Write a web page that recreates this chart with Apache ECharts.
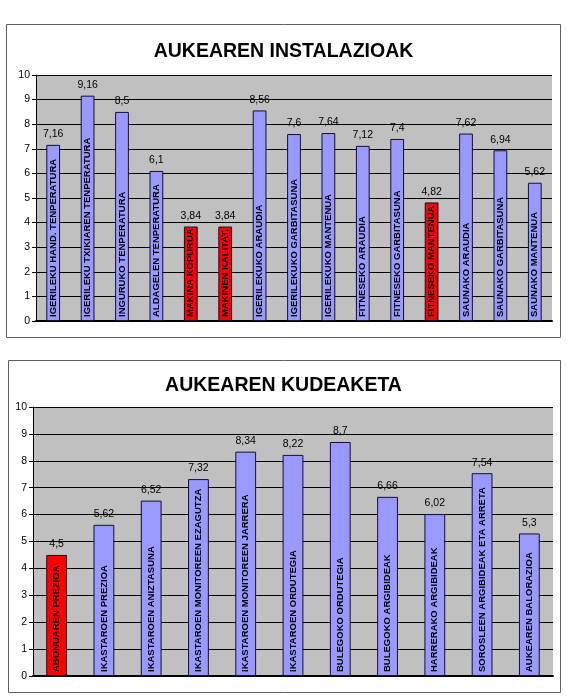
<!DOCTYPE html>
<html>
<head>
<meta charset="utf-8">
<script src="https://cdn.jsdelivr.net/npm/echarts@6/dist/echarts.min.js"></script>
<style>
  html, body { margin: 0; padding: 0; background: #fff; }
  #chart { width: 567px; height: 700px; }
</style>
</head>
<body>
<div id="chart"></div>
<script>
// goiko grafikoa
const instalazioak = [
  "IGERILEKU HAND. TENPERATURA",
  "IGERILEKU TXIKIAREN TENPERATURA",
  "INGURUKO TENPERATURA",
  "ALDAGELEN TENPERATURA",
  "MAKINA KOPURUA",
  "MAKINEN KALITAT.",
  "IGERILEKUKO ARAUDIA",
  "IGERILEKUKO GARBITASUNA",
  "IGERILEKUKO MANTENUA",
  "FITNESEKO ARAUDIA",
  "FITNESEKO GARBITASUNA",
  "FITNESEKO MANTENUA",
  "SAUNAKO ARAUDIA",
  "SAUNAKO GARBITASUNA",
  "SAUNAKO MANTENUA"
];
const instalazioakBalioak = [7.16, 9.16, 8.5, 6.1, 3.84, 3.84, 8.56, 7.6, 7.64, 7.12, 7.4, 4.82, 7.62, 6.94, 5.62];

// beheko grafikoa
const kudeaketa = [
  "ABONUAREN PREZIOA",
  "IKASTAROEN PREZIOA",
  "IKASTAROEN ANIZTASUNA",
  "IKASTAROEN MONITOREEN EZAGUTZA",
  "IKASTAROEN MONITOREEN JARRERA",
  "IKASTAROEN ORDUTEGIA",
  "BULEGOKO ORDUTEGIA",
  "BULEGOKO ARGIBIDEAK",
  "HARRERAKO ARGIBIDEAK",
  "SOROSLEEN ARGIBIDEAK ETA ARRETA",
  "AUKEAREN BALORAZIOA"
];
const kudeaketaBalioak = [4.5, 5.62, 6.52, 7.32, 8.34, 8.22, 8.7, 6.66, 6.02, 7.54, 5.3];

const FONT = "Liberation Sans, Arial, sans-serif";

// 5 baino gutxiago -> gorria
function barColor(p) {
  return p.value < 5 ? "#FF0000" : "#9999FF";
}

function yAxis(idx) {
  return {
    gridIndex: idx,
    type: "value",
    min: 0,
    max: 10,
    interval: 1,
    axisLine: { show: true, lineStyle: { color: "#000", width: 1 } },
    axisTick: { show: true, length: 4, lineStyle: { color: "#000" } },
    axisLabel: { color: "#000", fontSize: 10.5, fontFamily: FONT, margin: 6 },
    splitLine: { show: true, lineStyle: { color: "#000", width: 1 } }
  };
}

function xAxis(idx, cats) {
  return {
    gridIndex: idx,
    type: "category",
    data: cats,
    axisLine: { show: true, onZero: false, lineStyle: { color: "#000", width: 2 } },
    axisTick: { show: false },
    axisLabel: { show: false }
  };
}

function barSeries(idx, vals, width) {
  return [
    {
      type: "bar",
      xAxisIndex: idx,
      yAxisIndex: idx,
      data: vals,
      barWidth: width,
      itemStyle: { color: barColor, borderColor: "#101030", borderWidth: 1 },
      label: {
        show: true,
        position: "top",
        distance: 5,
        color: "#000",
        fontSize: 10.5,
        fontFamily: FONT,
        formatter: p => String(p.value).replace(".", ",")
      },
      z: 2
    },
    {
      // izenak barraren barruan
      type: "bar",
      xAxisIndex: idx,
      yAxisIndex: idx,
      data: vals,
      barWidth: width,
      barGap: "-100%",
      itemStyle: { color: "transparent" },
      label: {
        show: true,
        position: "insideBottom",
        rotate: 90,
        align: "left",
        verticalAlign: "middle",
        distance: 4,
        color: "#000",
        fontSize: 9.5,
        fontWeight: "bold",
        fontFamily: FONT,
        formatter: "{b}"
      },
      silent: true,
      z: 3
    }
  ];
}

const myChart = echarts.init(document.getElementById("chart"));

const option = {
  backgroundColor: "#fff",
  animation: false,
  title: [
    {
      text: "AUKEAREN INSTALAZIOAK",
      left: "center",
      top: 37,
      textStyle: { fontSize: 19.5, fontWeight: "bold", color: "#000", fontFamily: FONT }
    },
    {
      text: "AUKEAREN KUDEAKETA",
      left: "center",
      top: 371,
      textStyle: { fontSize: 19.5, fontWeight: "bold", color: "#000", fontFamily: FONT }
    }
  ],
  graphic: [
    {
      type: "rect",
      shape: { x: 6.5, y: 24.5, width: 554, height: 313 },
      style: { fill: "none", stroke: "#606060", lineWidth: 1 },
      z: -10
    },
    {
      type: "rect",
      shape: { x: 8.5, y: 360.5, width: 552, height: 332 },
      style: { fill: "none", stroke: "#606060", lineWidth: 1 },
      z: -10
    }
  ],
  grid: [
    { left: 36, top: 75, right: 15, height: 246, show: true, backgroundColor: "#C0C0C0", borderWidth: 0 },
    { left: 33, top: 407, right: 14, height: 269, show: true, backgroundColor: "#C0C0C0", borderWidth: 0 }
  ],
  xAxis: [xAxis(0, instalazioak), xAxis(1, kudeaketa)],
  yAxis: [yAxis(0), yAxis(1)],
  series: [
    ...barSeries(0, instalazioakBalioak, "40%"),
    ...barSeries(1, kudeaketaBalioak, "44%")
  ]
};

myChart.setOption(option);
</script>
</body>
</html>
